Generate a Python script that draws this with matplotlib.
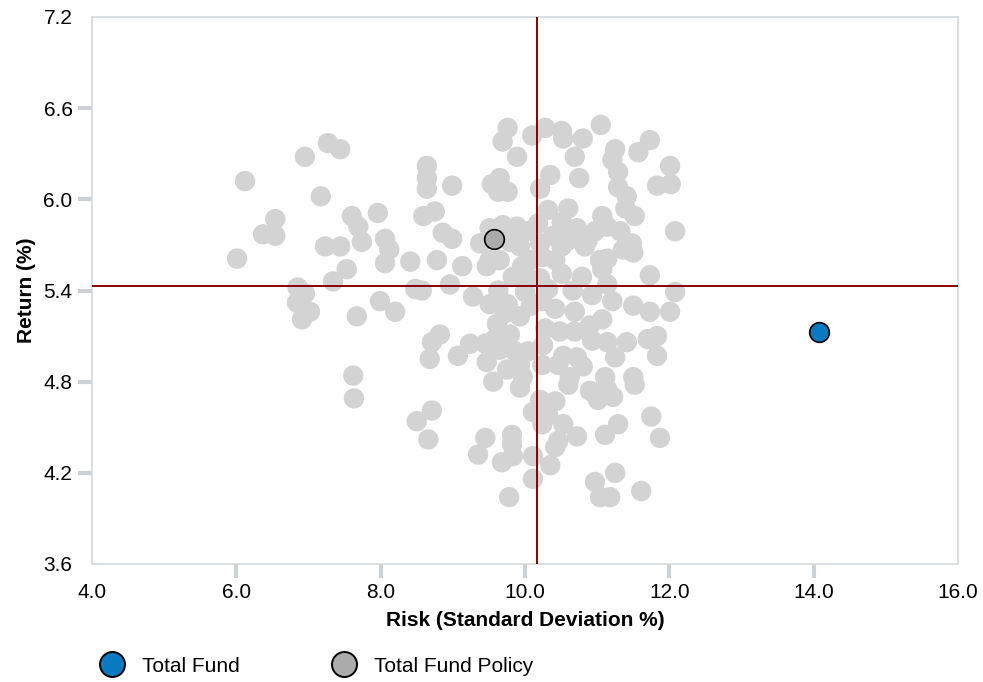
import matplotlib
matplotlib.use("Agg")
import matplotlib.pyplot as plt
from matplotlib.lines import Line2D

plt.rcParams['font.family'] = ['Liberation Sans', 'DejaVu Sans']

# Universe (peer) points: risk (x) and return (y)
peer_risk = [
    6.01, 6.12, 6.95, 7.27, 7.44, 7.17, 6.54, 6.37, 6.54, 7.60, 7.96, 7.69, 7.23, 7.44, 7.74, 8.06,
    7.53, 7.34, 6.85, 6.95, 6.84, 7.02, 6.91, 7.67, 7.99, 8.06, 8.12, 7.62, 7.63, 8.41, 8.78, 9.13,
    9.47, 8.96, 8.48, 8.57, 8.20, 9.28, 9.51, 9.76, 9.61, 9.79, 9.93, 8.82, 8.71, 8.68, 9.07, 9.24,
    9.47, 9.75, 9.93, 10.04, 9.83, 9.63, 8.71, 8.50, 8.66, 9.45, 9.35, 9.82, 9.82, 9.83, 9.68, 10.11,
    10.11, 9.78, 9.56, 9.93, 10.11, 11.52, 10.60, 10.90, 11.01, 11.14, 11.22, 10.42, 10.32, 10.24, 10.53, 10.72,
    10.46, 10.42, 11.11, 11.29, 11.75, 11.87, 10.35, 11.25, 10.97, 11.04, 11.18, 11.61, 10.51, 10.83, 11.36, 11.50,
    11.04, 11.14, 11.07, 10.24, 10.51, 10.79, 11.14, 11.73, 12.08, 10.66, 10.93, 11.21, 11.50, 11.73, 12.01, 10.42,
    10.69, 10.24, 11.07, 10.90, 10.48, 10.69, 10.93, 11.14, 11.41, 11.70, 11.83, 11.83, 11.25, 10.53, 10.72, 10.46,
    10.80, 10.24, 10.25, 10.62, 11.11, 11.50, 10.28, 10.51, 10.53, 11.05, 10.80, 10.69, 11.25, 11.21, 11.57, 11.73,
    12.01, 11.83, 12.02, 10.35, 10.75, 11.29, 10.21, 11.29, 11.41, 11.39, 11.52, 10.32, 10.60, 11.07, 11.14, 11.32,
    10.97, 10.72, 10.51, 10.39, 10.60, 10.87, 12.08, 11.48, 10.18, 9.76, 9.69, 9.89, 10.10, 8.64, 8.64, 8.64,
    8.99, 9.54, 9.65, 9.76, 9.63, 8.59, 8.75, 8.86, 8.99, 9.51, 9.69, 9.89, 10.04, 9.38, 9.79, 9.96,
    10.04, 10.00, 10.08, 9.93, 10.07, 9.65, 9.51, 9.72, 9.58, 9.86, 9.97, 10.21, 9.65, 9.45, 10.21, 10.28,
    10.32, 10.21, 10.42,
]
peer_return = [
    5.61, 6.12, 6.28, 6.37, 6.33, 6.02, 5.87, 5.77, 5.76, 5.89, 5.91, 5.82, 5.69, 5.69, 5.72, 5.74,
    5.54, 5.46, 5.42, 5.38, 5.32, 5.26, 5.21, 5.23, 5.33, 5.58, 5.67, 4.84, 4.69, 5.59, 5.60, 5.56,
    5.56, 5.44, 5.41, 5.40, 5.26, 5.36, 5.31, 5.31, 5.18, 5.11, 5.23, 5.11, 5.06, 4.95, 4.97, 5.05,
    4.93, 4.88, 4.91, 5.00, 5.49, 5.40, 4.61, 4.54, 4.42, 4.43, 4.32, 4.45, 4.39, 4.31, 4.27, 4.31,
    4.16, 4.04, 4.80, 4.76, 4.60, 4.78, 4.78, 4.74, 4.68, 4.75, 4.70, 4.67, 4.58, 4.52, 4.52, 4.44,
    4.41, 4.37, 4.45, 4.52, 4.57, 4.43, 4.25, 4.20, 4.14, 4.04, 4.04, 4.08, 5.69, 5.69, 5.67, 5.65,
    5.60, 5.61, 5.54, 5.62, 5.51, 5.49, 5.44, 5.50, 5.39, 5.40, 5.37, 5.33, 5.30, 5.26, 5.26, 5.28,
    5.26, 5.33, 5.21, 5.17, 5.13, 5.13, 5.07, 5.06, 5.06, 5.08, 5.10, 4.97, 4.96, 4.97, 4.96, 4.91,
    4.90, 4.91, 5.04, 4.83, 4.83, 4.83, 6.47, 6.45, 6.40, 6.49, 6.40, 6.28, 6.33, 6.26, 6.31, 6.39,
    6.22, 6.09, 6.10, 6.16, 6.14, 6.18, 6.07, 6.08, 6.02, 5.94, 5.89, 5.93, 5.94, 5.89, 5.82, 5.79,
    5.79, 5.81, 5.85, 5.76, 5.73, 5.73, 5.79, 5.71, 5.84, 6.47, 6.38, 6.28, 6.42, 6.22, 6.14, 6.07,
    6.09, 6.10, 6.14, 6.05, 6.05, 5.89, 5.92, 5.78, 5.74, 5.81, 5.83, 5.82, 5.79, 5.71, 5.72, 5.56,
    5.48, 5.39, 5.30, 5.69, 5.60, 5.60, 5.60, 5.25, 5.08, 5.00, 4.83, 4.68, 5.01, 5.05, 5.48, 5.15,
    5.41, 5.71, 5.60,
]

fund_names = ["Total Fund", "Total Fund Policy"]
fund_risk = [14.08, 9.57]
fund_return = [5.13, 5.74]
fund_colors = ["#0A7BC1", "#ABABAB"]

median_risk = 10.16
median_return = 5.43

x_ticks = [4.0, 6.0, 8.0, 10.0, 12.0, 14.0, 16.0]
y_ticks = [3.6, 4.2, 4.8, 5.4, 6.0, 6.6, 7.2]

FS = 15

fig = plt.figure(figsize=(9.83, 6.82), dpi=100)
ax = fig.add_axes([92/983, 1-564/682, (958-92)/983, (564-17)/682])

ax.scatter(peer_risk, peer_return, s=215, color="#D3D3D3", edgecolors="none", zorder=2)
ax.axvline(median_risk, color="#8B0000", lw=1.4, zorder=3)
ax.axhline(median_return, color="#8B0000", lw=1.4, zorder=3)
for i in range(len(fund_names)):
    ax.scatter([fund_risk[i]], [fund_return[i]], s=200, color=fund_colors[i],
               edgecolors="black", linewidths=1.2, zorder=5)

ax.set_xlim(4.0, 16.0)
ax.set_ylim(3.6, 7.2)
ax.set_xticks(x_ticks)
ax.set_yticks(y_ticks)
ax.set_xticklabels([f"{v:.1f}" for v in x_ticks], fontsize=FS)
ax.set_yticklabels([f"{v:.1f}" for v in y_ticks], fontsize=FS)
ax.tick_params(axis="both", length=10, width=3, color="#CDD1D4", direction="out", pad=4)
for t in (ax.xaxis.get_major_ticks()[0], ax.xaxis.get_major_ticks()[-1],
          ax.yaxis.get_major_ticks()[0], ax.yaxis.get_major_ticks()[-1]):
    t.tick1line.set_visible(False)
for sp in ax.spines.values():
    sp.set_color("#D6D9DC")
    sp.set_linewidth(1.2)

ax.set_xlabel("Risk (Standard Deviation %)", fontsize=FS, fontweight="bold", labelpad=6)
ax.set_ylabel("Return (%)", fontsize=FS, fontweight="bold", labelpad=5)

handles = [Line2D([0], [0], marker="o", linestyle="none", markersize=18,
                  markerfacecolor=fund_colors[i], markeredgecolor="black",
                  markeredgewidth=1.4) for i in range(len(fund_names))]
fig.legend(handles, fund_names, loc="center left", bbox_to_anchor=(86/983, 1-666/682),
           ncol=2, frameon=False, fontsize=FS, handletextpad=0.7, columnspacing=4.25,
           borderpad=0, handlelength=1.5)

fig.savefig("out.png", dpi=100)
